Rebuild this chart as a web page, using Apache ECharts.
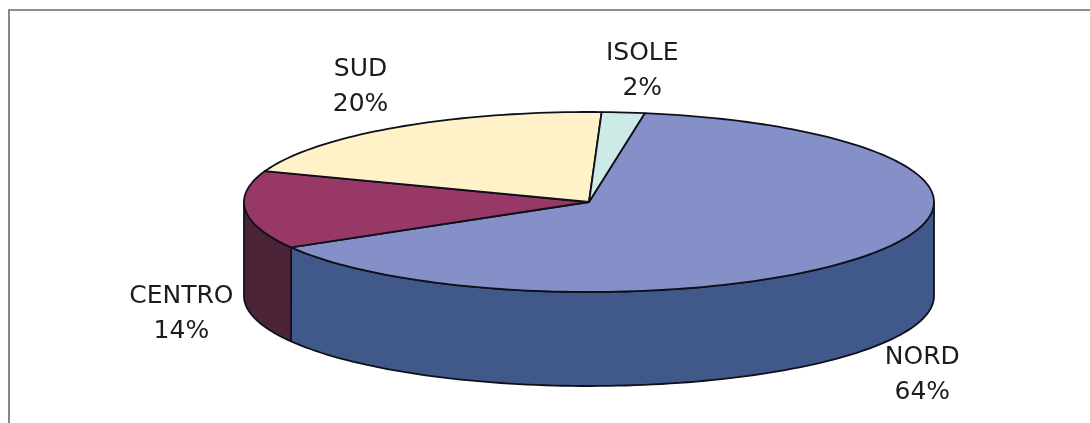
<!DOCTYPE html>
<html><head><meta charset="utf-8">
<style>html,body{margin:0;padding:0;background:#fff}#c{width:1090px;height:423px}</style>
<script src="https://cdn.jsdelivr.net/npm/echarts@6/dist/echarts.min.js"></script>
</head><body><div id="c"></div>
<script>
const categories = ['NORD', 'CENTRO', 'SUD', 'ISOLE'];
const shares = [64, 14, 20, 2];
const topColors = ['#8490C7', '#983867', '#FFF2C8', '#CCEBE6'];
const sideColors = ['#41588A', '#4C2437', '#807964', '#667673'];
const labelOffsets = [[49, 122], [-64, 104], [-36, -40], [19, -41]];

const startDeg = 9.3, cx = 589, cy = 202, rx = 345, ry = 90, depth = 94;
const total = shares.reduce((a, b) => a + b, 0);
const pt = (deg, dy) => {
  const r = deg * Math.PI / 180;
  return [cx + rx * Math.sin(r), cy - ry * Math.cos(r) + (dy || 0)];
};
const arc = (a, b, dy) => {
  const n = Math.max(2, Math.ceil(Math.abs(b - a) / 1.5));
  const out = [];
  for (let i = 0; i <= n; i++) out.push(pt(a + (b - a) * i / n, dy));
  return out;
};
const stroke = '#10101a';

function renderItem(params, api) {
  const i = params.dataIndex;
  const before = shares.slice(0, i).reduce((a, b) => a + b, 0);
  const a0 = startDeg + before / total * 360;
  const a1 = a0 + api.value(0) / total * 360;
  const children = [];
  const f0 = Math.max(a0, 90), f1 = Math.min(a1, 270);
  if (f1 > f0) {
    children.push({
      type: 'polygon',
      shape: { points: arc(f0, f1, 0).concat(arc(f1, f0, depth)) },
      style: { fill: sideColors[i], stroke: stroke, lineWidth: 1.8, lineJoin: 'round' }
    });
  }
  children.push({
    type: 'polygon',
    shape: { points: [[cx, cy]].concat(arc(a0, a1, 0)) },
    style: { fill: topColors[i], stroke: stroke, lineWidth: 1.8, lineJoin: 'round' }
  });
  const anchor = pt((a0 + a1) / 2, 0);
  children.push({
    type: 'text',
    z2: 10,
    style: {
      x: anchor[0] + labelOffsets[i][0],
      y: anchor[1] + labelOffsets[i][1],
      text: categories[i] + '\n' + api.value(0) + '%',
      fill: '#1c1c1c',
      font: '25px "DejaVu Sans"',
      lineHeight: 35,
      align: 'center',
      verticalAlign: 'middle'
    }
  });
  return { type: 'group', children };
}

const chart = echarts.init(document.getElementById('c'), null, { renderer: 'canvas' });
chart.setOption({
  animation: false,
  backgroundColor: '#fff',
  graphic: [{
    type: 'polyline',
    shape: { points: [[9, 423], [9, 10], [1090, 10]] },
    style: { fill: 'none', stroke: '#6a6a6a', lineWidth: 1.6 }
  }],
  series: [{
    type: 'custom',
    coordinateSystem: 'none',
    renderItem: renderItem,
    data: shares.map(v => [v])
  }]
});
</script></body></html>
